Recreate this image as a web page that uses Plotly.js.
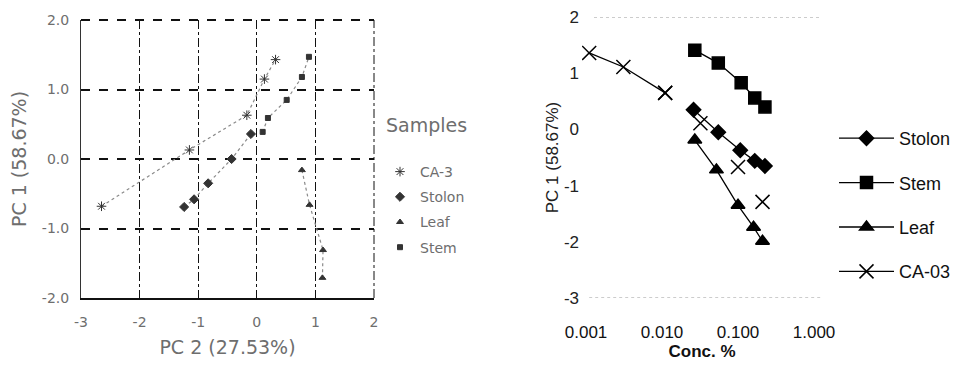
<!DOCTYPE html>
<html>
<head>
<meta charset="utf-8">
<script src="https://cdn.plot.ly/plotly-3.0.1.min.js"></script>
<style>html,body{margin:0;padding:0;background:#fff;}#chart{width:959px;height:367px;}</style>
</head>
<body>
<div id="chart"></div>
<script>
// ---------- Left panel: PCA scores (PC 2 vs PC 1) ----------
const pcaCA3X = [-2.65, -1.15, -0.17, 0.13, 0.32];
const pcaCA3Y = [-0.68, 0.13, 0.63, 1.15, 1.43];
const pcaStolonX = [-1.24, -1.07, -0.83, -0.43, -0.10];
const pcaStolonY = [-0.69, -0.58, -0.35, 0.00, 0.36];
const pcaLeafX = [0.77, 0.90, 1.13, 1.12];
const pcaLeafY = [-0.16, -0.66, -1.31, -1.71];
const pcaStemX = [0.10, 0.19, 0.51, 0.77, 0.89];
const pcaStemY = [0.39, 0.59, 0.85, 1.18, 1.47];
const leftXTicks = [-3, -2, -1, 0, 1, 2];
const leftXTickText = ["-3", "-2", "-1", "0", "1", "2"];
const leftYTicks = [-2, -1, 0, 1, 2];
const leftYTickText = ["-2.0", "-1.0", "0.0", "1.0", "2.0"];

// ---------- Right panel: PC 1 vs concentration ----------
const stolonConc = [0.026, 0.055, 0.107, 0.166, 0.226];
const stolonPC1 = [0.35, -0.05, -0.37, -0.56, -0.65];
const stemConc = [0.027, 0.055, 0.110, 0.166, 0.226];
const stemPC1 = [1.41, 1.18, 0.83, 0.56, 0.40];
const leafConc = [0.027, 0.052, 0.100, 0.160, 0.210];
const leafPC1 = [-0.19, -0.72, -1.35, -1.74, -1.99];
const caConc = [0.0011, 0.0031, 0.011, 0.032, 0.100, 0.210];
const caPC1 = [1.36, 1.11, 0.65, 0.11, -0.67, -1.29];
const rightXTicks = [0.001, 0.01, 0.1, 1];
const rightXTickText = ["0.001", "0.010", "0.100", "1.000"];
const rightYTicks = [-3, -2, -1, 0, 1, 2];
const rightYTickText = ["-3", "-2", "-1", "0", "1", "2"];

const W = 959, H = 367;
const px = v => v / W;
const py = v => 1 - v / H;

const greyText = "#6e6e6e";
const leftFont = "DejaVu Sans, sans-serif";
const rightFont = "Liberation Sans, Arial, sans-serif";
const lineGrey = "#8a8a8a";
const markGrey = "#333";

function leftLine(x, y) {
  return {x, y, xaxis: "x", yaxis: "y", mode: "lines", showlegend: false, hoverinfo: "skip",
    line: {color: lineGrey, width: 1.2, dash: "dot"}};
}
function leftMarks(name, x, y, symbol, size, grp) {
  return {x, y, name, xaxis: "x", yaxis: "y", mode: "markers", legend: "legend", legendgroup: grp,
    marker: {symbol, size, color: markGrey, line: {color: markGrey, width: 1}}};
}
function rightTrace(name, x, y, symbol, size, grp, dash) {
  return {x, y, name, xaxis: "x2", yaxis: "y2", mode: "lines+markers", legend: "legend2", legendgroup: grp,
    line: {color: "#000", width: 1.3, dash: dash || "solid"},
    marker: {symbol, size, color: "#000", line: {color: "#000", width: 1.5}}};
}

const traces = [
  leftLine(pcaCA3X, pcaCA3Y),
  leftLine(pcaStolonX, pcaStolonY),
  leftLine(pcaLeafX, pcaLeafY),
  leftLine(pcaStemX, pcaStemY),
  leftMarks("CA-3", pcaCA3X, pcaCA3Y, "asterisk-open", 8, "a"),
  leftMarks("Stolon", pcaStolonX, pcaStolonY, "diamond", 7, "b"),
  leftMarks("Leaf", pcaLeafX, pcaLeafY, "triangle-up", 6, "c"),
  leftMarks("Stem", pcaStemX, pcaStemY, "square", 5, "d"),

  rightTrace("Stolon", stolonConc, stolonPC1, "diamond", 11, "s1"),
  rightTrace("Stem", stemConc, stemPC1, "square", 12, "s2"),
  rightTrace("Leaf", leafConc, leafPC1, "triangle-up", 12, "s3"),
  rightTrace("CA-03", caConc.slice(0, 3), caPC1.slice(0, 3), "x-thin-open", 14, "s4"),
  {x: caConc.slice(2), y: caPC1.slice(2), xaxis: "x2", yaxis: "y2", mode: "markers", showlegend: false,
    marker: {symbol: "x-thin-open", size: 14, color: "#000", line: {color: "#000", width: 1.5}}}
];

const layout = {
  width: W, height: H,
  margin: {l: 0, r: 0, t: 0, b: 0},
  paper_bgcolor: "#fff", plot_bgcolor: "#fff",
  showlegend: true,
  xaxis: {
    domain: [px(81), px(374)], range: [-3, 2], anchor: "y",
    tickmode: "array", tickvals: leftXTicks, ticktext: leftXTickText,
    ticks: "inside", ticklen: 4, tickcolor: "#111", ticklabelstandoff: 10,
    showgrid: true, gridcolor: "#111", gridwidth: 1, griddash: "dashdot",
    zeroline: false, showline: true, linecolor: "#111", linewidth: 2, mirror: false,
    tickfont: {family: leftFont, size: 14, color: greyText},
    title: {text: "PC 2 (27.53%)", font: {family: leftFont, size: 19, color: greyText}, standoff: 12}
  },
  yaxis: {
    domain: [py(298), py(20)], range: [-2, 2], anchor: "x",
    tickmode: "array", tickvals: leftYTicks, ticktext: leftYTickText,
    ticks: "inside", ticklen: 4, tickcolor: "#111", ticklabelstandoff: 8,
    showgrid: true, gridcolor: "#111", gridwidth: 2, griddash: "dash",
    zeroline: false, showline: true, linecolor: "#333", linewidth: 1, mirror: false,
    tickfont: {family: leftFont, size: 14, color: greyText},
    title: {text: "PC 1 (58.67%)", font: {family: leftFont, size: 19, color: greyText}, standoff: 10}
  },
  xaxis2: {
    type: "log", domain: [px(582), px(822)], range: [-3.053, 0.105], anchor: "y2",
    tickmode: "array", tickvals: rightXTicks, ticktext: rightXTickText,
    ticks: "", showgrid: false, zeroline: false, showline: false, ticklabelstandoff: 22,
    tickfont: {family: rightFont, size: 17, color: "#111"},
    title: {text: "<b>Conc. %</b>", font: {family: rightFont, size: 17, color: "#111"}, standoff: 0}
  },
  yaxis2: {
    domain: [py(298), py(17)], range: [-3, 2], anchor: "x2",
    tickmode: "array", tickvals: rightYTicks, ticktext: rightYTickText,
    ticks: "", showgrid: false, zeroline: false, showline: false, ticklabelstandoff: 2,
    tickfont: {family: rightFont, size: 17, color: "#222"},
    title: {text: "PC 1 (58.67%)", font: {family: rightFont, size: 17, color: "#222"}, standoff: 0}
  },
  shapes: [
    {type: "line", xref: "x domain", yref: "y domain", x0: 0, x1: 1, y0: 1, y1: 1,
      line: {color: "#111", width: 2, dash: "dash"}},
    {type: "line", xref: "x domain", yref: "y domain", x0: 1, x1: 1, y0: 0, y1: 1,
      line: {color: "#111", width: 1, dash: "dashdot"}},
    {type: "line", xref: "x2 domain", yref: "y2", x0: 0.05, x1: 1, y0: 2, y1: 2,
      line: {color: "#999", width: 1, dash: "dot"}},
    {type: "line", xref: "x2 domain", yref: "y2", x0: 0.03, x1: 1, y0: -3, y1: -3,
      line: {color: "#999", width: 1, dash: "dot"}}
  ],
  annotations: [
    {text: "Samples", xref: "paper", yref: "paper", x: px(384), y: py(125), xanchor: "left", yanchor: "middle",
      showarrow: false, font: {family: leftFont, size: 19, color: greyText}}
  ],
  legend: {
    x: px(380), y: py(156), xanchor: "left", yanchor: "top",
    traceorder: "grouped", tracegroupgap: 4, bgcolor: "rgba(0,0,0,0)",
    font: {family: leftFont, size: 14, color: greyText}
  },
  legend2: {
    x: px(834), y: py(120), xanchor: "left", yanchor: "top",
    traceorder: "grouped", tracegroupgap: 18, itemwidth: 55, bgcolor: "rgba(0,0,0,0)",
    font: {family: rightFont, size: 18, color: "#111"}
  }
};

Plotly.newPlot("chart", traces, layout, {displayModeBar: false, staticPlot: true});
</script>
</body>
</html>
